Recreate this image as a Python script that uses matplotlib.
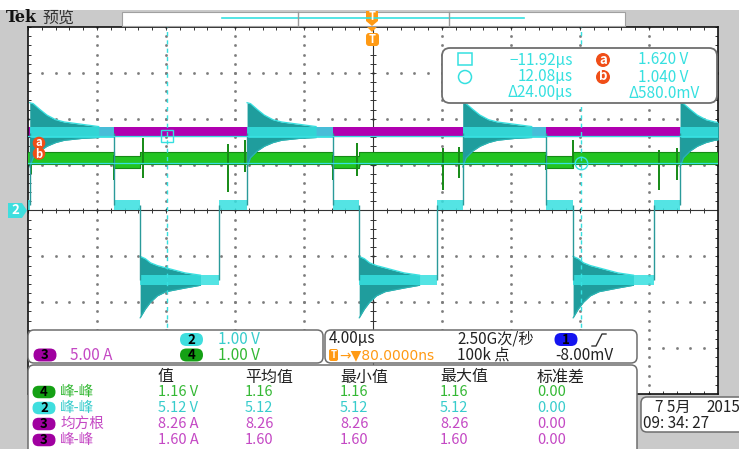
import numpy as np
import matplotlib.pyplot as plt
from matplotlib.patches import Rectangle, FancyBboxPatch, Polygon, Circle

plt.rcParams['font.family'] = ['Noto Sans CJK SC', 'DejaVu Sans']

# ---- values ----
# time base 4.00 us/div, 10 div across, trigger at the centre
# channel 2 (cyan), 1.00 V/div, ground on the centre line
ch2_rise_high_us = [-19.9, -7.3, 5.2, 17.8]
ch2_fall_step_us = [-15.0, -2.3, 10.0]
ch2_fall_low_us = [-13.5, -0.8, 11.6]
ch2_rise_step_us = [-8.9, 3.7, 16.3]
ch2_level_v = {'high': 1.70, 'step': 0.12, 'low': -1.52}
ch2_band_v = 0.11

# ringing envelope after the edges (offset from edge in us, top, bottom in V)
ring_high_dt = [0.0, 0.2, 0.6, 1.0, 1.5, 2.0, 3.0, 4.0]
ring_high_top = [2.35, 2.33, 2.20, 2.08, 1.98, 1.93, 1.88, 1.83]
ring_high_bot = [0.95, 1.15, 1.30, 1.40, 1.48, 1.53, 1.57, 1.59]
ring_low_dt = [0.0, 0.3, 0.6, 1.0, 1.5, 2.6, 3.5]
ring_low_top = [-1.00, -1.05, -1.14, -1.20, -1.25, -1.36, -1.41]
ring_low_bot = [-2.34, -2.15, -2.00, -1.86, -1.77, -1.69, -1.63]

# channel 4 (green) and channel 3 (magenta), in screen divisions
ch4_level = 1.15
ch4_level_step = 1.05
ch4_band = 0.13
ch4_spike_us = [-19.8, -15.0, -13.35, -8.4, -7.4, -2.3, -0.9, 4.05, 5.0, 10.0, 11.6, 16.6, 17.6]
ch4_spike_top = [1.10, 1.20, 1.58, 1.45, 1.53, 1.20, 1.47, 1.36, 1.38, 1.20, 1.53, 1.32, 1.36]
ch4_spike_bot = [0.80, 0.66, 0.70, 0.40, 0.84, 0.66, 0.75, 0.45, 0.70, 0.88, 0.95, 0.45, 0.66]
ch3_level = 1.72
ch3_band = 0.09

# cursors
cur_t = [-11.92, 12.08]
cur_v = [1.620, 1.040]

# measurement table
meas_ch = ['4', '2', '3', '3']
meas_name = ['峰-峰', '峰-峰', '均方根', '峰-峰']
meas_val = ['1.16 V', '5.12 V', '8.26 A', '1.60 A']
meas_mean = ['1.16', '5.12', '8.26', '1.60']
meas_min = ['1.16', '5.12', '8.26', '1.60']
meas_max = ['1.16', '5.12', '8.26', '1.60']
meas_std = ['0.00', '0.00', '0.00', '0.00']
meas_head = ['值', '平均值', '最小值', '最大值', '标准差']

badge_fc = {'1': '#1414f0', '2': '#3fdede', '3': '#a000a0', '4': '#14a014'}
text_c = {'2': '#38cccc', '3': '#c448c4', '4': '#34b834'}

CYAN = '#36e0e0'
TEAL = '#1f9d9d'
GREEN = '#22c422'
DKGREEN = '#158a15'
MAGENTA = '#b000b0'
GRAY = '#cacaca'
ORANGE = '#ff9a14'
RED = '#f04e18'

W, H = 739, 449
X0, X1, Y0, Y1 = 28, 718, 27, 394

fig = plt.figure(figsize=(W / 100, H / 100), dpi=100)
bg = fig.add_axes([0, 0, 1, 1], label='bg')
bg.set_xlim(0, W)
bg.set_ylim(H, 0)
bg.axis('off')
bg.add_patch(Rectangle((0, 10), W, H - 10, fc=GRAY, ec='none'))

# ---- graticule / traces ----
ax = fig.add_axes([X0 / W, 1 - Y1 / H, (X1 - X0) / W, (Y1 - Y0) / H], label='scope', zorder=2)
ax.set_xlim(-20, 20)
ax.set_ylim(-4, 4)
ax.set_xticks([])
ax.set_yticks([])
for s in ax.spines.values():
    s.set_color('#111111')
    s.set_linewidth(1.2)

minor_x = np.arange(-20, 20.01, 0.8)
minor_y = np.arange(-4, 4.01, 0.2)
for xv in range(-16, 17, 4):
    if xv != 0:
        ax.plot(np.full_like(minor_y, xv), minor_y, ls='none', marker='s', ms=0.9,
                color='#7c7c7c', zorder=1)
for yv in range(-3, 4):
    if yv != 0:
        ax.plot(minor_x, np.full_like(minor_x, yv), ls='none', marker='s', ms=0.9,
                color='#7c7c7c', zorder=1)
ax.axhline(0, color='#333333', lw=0.8, zorder=1)
ax.axvline(0, color='#333333', lw=0.8, zorder=1)
ax.vlines(minor_x, -0.065, 0.065, color='#333333', lw=0.7, zorder=1)
ax.hlines(minor_y, -0.17, 0.17, color='#333333', lw=0.7, zorder=1)
ax.vlines(minor_x, 3.93, 4, color='#333333', lw=0.7, zorder=1)
ax.vlines(minor_x, -4, -3.93, color='#333333', lw=0.7, zorder=1)
ax.hlines(minor_y, -20, -19.8, color='#333333', lw=0.7, zorder=1)
ax.hlines(minor_y, 19.8, 20, color='#333333', lw=0.7, zorder=1)

# channel 3 (magenta)
ax.fill_between([-20, 20], ch3_level - ch3_band, ch3_level + ch3_band, color=MAGENTA, lw=0, zorder=2)
ax.plot([-20, 20], [ch3_level - ch3_band] * 2, color='#7a007a', lw=0.8, zorder=2)

# channel 4 (green)
g_t, g_y = [-20.0], [ch4_level]
for a, b in zip(ch2_fall_step_us, ch2_fall_low_us):
    g_t += [a, a, b, b]
    g_y += [ch4_level, ch4_level_step, ch4_level_step, ch4_level]
g_t.append(20.0)
g_y.append(ch4_level)
g_y = np.array(g_y)
ax.fill_between(g_t, g_y - ch4_band, g_y + ch4_band, color=GREEN, lw=0, zorder=3)
ax.plot(g_t, g_y - ch4_band, color=DKGREEN, lw=0.8, zorder=3)
ax.plot(g_t, g_y + ch4_band, color=DKGREEN, lw=0.8, zorder=3)
ax.vlines(ch4_spike_us, ch4_spike_bot, ch4_spike_top, color=DKGREEN, lw=1.4, zorder=3)

# channel 2 (cyan)
events = sorted([(t, 'high') for t in ch2_rise_high_us] + [(t, 'step') for t in ch2_fall_step_us]
                + [(t, 'low') for t in ch2_fall_low_us] + [(t, 'step') for t in ch2_rise_step_us])
state, t_prev, segs = 'step', -20.0, []
for t, s in events:
    segs.append((t_prev, t, state))
    t_prev, state = t, s
segs.append((t_prev, 20.0, state))

for i, (a, b, s) in enumerate(segs):
    lvl = ch2_level_v[s]
    if i > 0 and s in ('high', 'low'):
        dt, top, bot = ((ring_high_dt, ring_high_top, ring_high_bot) if s == 'high'
                        else (ring_low_dt, ring_low_top, ring_low_bot))
        tt = np.array(dt) + a
        ax.fill_between(tt, bot, top, color=TEAL, lw=0, zorder=4)
        ax.plot(tt, top, color=CYAN, lw=0.9, zorder=4)
        ax.plot(tt, bot, color='#2bb5b5', lw=0.8, zorder=4)
    ax.fill_between([a, b], lvl - ch2_band_v, lvl + ch2_band_v, color=CYAN, lw=0,
                    alpha=0.85, zorder=4)
    if i > 0:
        prev = ch2_level_v[segs[i - 1][2]]
        ax.vlines(a, min(prev, lvl), max(prev, lvl), color='#2a9a9a', lw=1.0, zorder=4)

# cursors
for v in cur_v:
    ax.axhline(v, color=CYAN, lw=0.9, zorder=5)
for t in cur_t:
    ax.axvline(t, color=CYAN, lw=1.0, ls=(0, (3, 3)), zorder=5)
ax.plot(cur_t[0], cur_v[0], marker='s', ms=9, mfc='none', mec=CYAN, mew=1.0, zorder=6)
ax.plot(cur_t[1], cur_v[1], marker='o', ms=9, mfc='none', mec=CYAN, mew=1.0, zorder=6)

# ---- overlay: readouts and markers ----
fg = fig.add_axes([0, 0, 1, 1], label='fg', zorder=5)
fg.set_xlim(0, W)
fg.set_ylim(H, 0)
fg.axis('off')
fg.patch.set_alpha(0)


def rbox(x, y, w, h, r=6, fc='white', ec='#6e6e6e', lw=1.1):
    fg.add_patch(FancyBboxPatch((x, y), w, h, boxstyle=f'round,pad=0,rounding_size={r}',
                                fc=fc, ec=ec, lw=lw))


def badge(cx, cy, label, fc, tc='black', w=23, h=13):
    fg.add_patch(FancyBboxPatch((cx - w / 2, cy - h / 2), w, h,
                                boxstyle=f'round,pad=0,rounding_size={h / 2}', fc=fc, ec='none'))
    fg.text(cx, cy, label, ha='center', va='center', color=tc, fontsize=9.5, fontweight='bold')


def txt(x, y, s, c='#222222', ha='left', fs=11, **kw):
    fg.text(x, y, s, ha=ha, va='center', color=c, fontsize=fs, **kw)


# header
txt(6, 18, 'Tek', fs=11.5, fontweight='bold', family='DejaVu Serif', c='#111111')
txt(42, 18, '预览', fs=11.5, c='#333333')
fg.add_patch(Rectangle((122, 12), 503, 14, fc='white', ec='#a0a0a0', lw=0.8))
fg.plot([222, 524], [18, 18], color=CYAN, lw=1.2)
fg.plot([298, 298], [12, 26], color='#9a9a9a', lw=1.0)
fg.plot([449, 449], [12, 26], color='#9a9a9a', lw=1.0)
fg.add_patch(Polygon([(366, 11), (378, 11), (378, 21), (372, 26), (366, 21)], fc=ORANGE, ec='none'))
txt(372, 17, 'T', c='white', ha='center', fs=8, fontweight='bold')
fg.add_patch(Polygon([(367, 27), (377, 27), (372, 32)], fc=ORANGE, ec='none'))
rbox(366, 33, 13, 13, r=3, fc=ORANGE, ec='none')
txt(372.5, 39.5, 'T', c='white', ha='center', fs=8, fontweight='bold')

# channel 2 ground marker and cursor a/b markers
fg.add_patch(Polygon([(8, 203), (22, 203), (27, 210.5), (22, 218), (8, 218)], fc=badge_fc['2'], ec='none'))
txt(15, 210.5, '2', c='white', ha='center', fs=9.5, fontweight='bold')
fg.add_patch(Circle((39, 153.5), 6.3, fc=RED, ec='none'))
fg.add_patch(Circle((39, 143), 6.3, fc=RED, ec='none'))
txt(39, 142.5, 'a', c='white', ha='center', fs=8, fontweight='bold')
txt(39, 154.5, 'b', c='white', ha='center', fs=8, fontweight='bold')

# cursor readout
rbox(442, 48, 275, 55, r=8, lw=1.3)
fg.add_patch(Rectangle((458, 53), 14, 12, fc='none', ec=CYAN, lw=1.1))
fg.add_patch(Circle((465, 77), 6.5, fc='none', ec=CYAN, lw=1.1))
txt(573, 60, f'{cur_t[0]:.2f}µs'.replace('-', '−'), c=CYAN, ha='right')
txt(573, 77, f'{cur_t[1]:.2f}µs', c=CYAN, ha='right')
txt(573, 93, f'Δ{cur_t[1] - cur_t[0]:.2f}µs', c=CYAN, ha='right')
for cy, lab, v in [(60, 'a', cur_v[0]), (77, 'b', cur_v[1])]:
    fg.add_patch(Circle((603, cy), 7, fc=RED, ec='none'))
    txt(603, cy - 0.5, lab, c='white', ha='center', fs=9.5, fontweight='bold')
    txt(688, cy, f'{v:.3f} V', c=CYAN, ha='right')
txt(700, 93, f'Δ{(cur_v[0] - cur_v[1]) * 1000:.1f}mV', c=CYAN, ha='right')

# vertical settings
rbox(28, 330, 295, 33)
badge(191.5, 339.5, '2', badge_fc['2'])
txt(218, 339, '1.00 V', c=text_c['2'])
badge(45, 355, '3', badge_fc['3'])
txt(70, 355, '5.00 A', c=text_c['3'])
badge(191.5, 355, '4', badge_fc['4'])
txt(218, 355, '1.00 V', c=text_c['4'])

# horizontal / trigger settings
rbox(325, 330, 312, 33)
txt(329, 339, '4.00µs')
txt(457, 339, '2.50G次/秒')
badge(566, 339.5, '1', badge_fc['1'])
fg.plot([592, 596, 602, 606], [346, 346, 334, 334], color='#333333', lw=1.0)
rbox(329, 349, 9, 12, r=2, fc=ORANGE, ec='none')
txt(333.5, 355, 'T', c='white', ha='center', fs=7, fontweight='bold')
txt(339, 355, '→▼80.0000ns', c=ORANGE, family=['DejaVu Sans'], fs=10)
txt(457, 355, '100k 点')
txt(555, 355, '-8.00mV')

# measurements
rbox(28, 365, 609, 95)
cols = [158, 245, 340, 440, 537]
for x, h in zip(cols, meas_head):
    txt(x, 377, h, fs=11.5)
rows = [392, 408, 424, 440]
for y, ch, nm, v, mn, lo, hi, sd in zip(rows, meas_ch, meas_name, meas_val, meas_mean,
                                       meas_min, meas_max, meas_std):
    badge(44, y, ch, badge_fc[ch], h=12.5)
    c = text_c[ch]
    txt(60, y, nm, c=c, fs=10.5)
    for x, s in zip(cols, [v, mn, lo, hi, sd]):
        txt(x, y, s, c=c, fs=10.5)

# date box
rbox(641, 397, 110, 35, r=6)
txt(655, 407, '7 5月', fs=11)
txt(706, 407, '2015', fs=11)
txt(643, 424, '09: 34: 27', fs=11)

fig.savefig('out.png', dpi=100)
